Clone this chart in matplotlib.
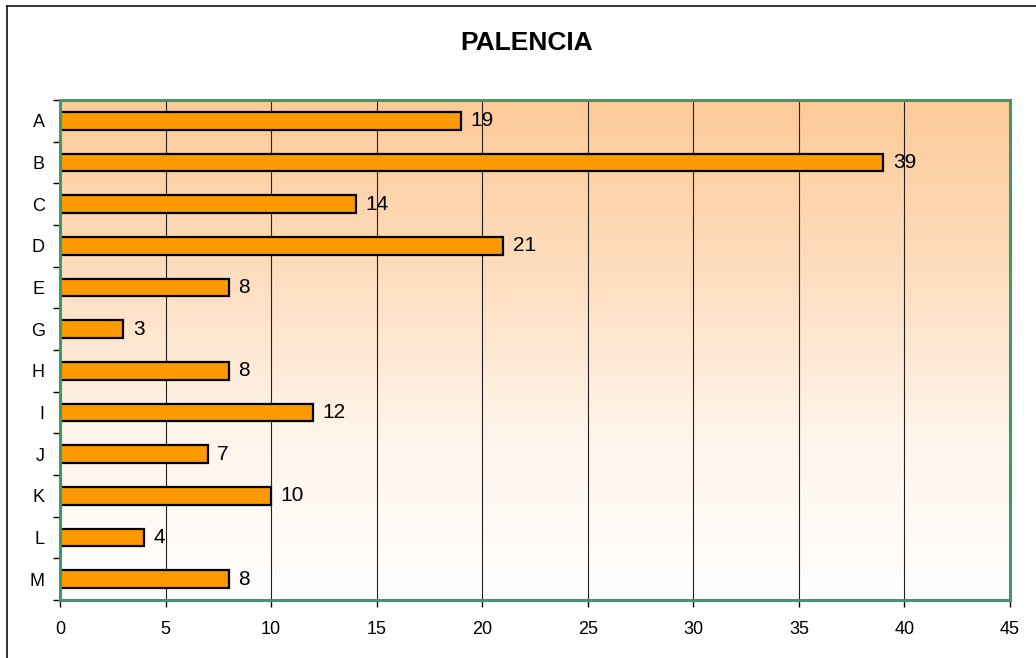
import numpy as np
import matplotlib
matplotlib.use("Agg")
import matplotlib.pyplot as plt
from matplotlib.colors import LinearSegmentedColormap
from matplotlib.patches import Rectangle
from matplotlib.lines import Line2D

plt.rcParams['font.family'] = ['Liberation Sans', 'DejaVu Sans']

# data
categories = ["A", "B", "C", "D", "E", "G", "H", "I", "J", "K", "L", "M"]
values = [19, 39, 14, 21, 8, 3, 8, 12, 7, 10, 4, 8]
x_ticks = [0, 5, 10, 15, 20, 25, 30, 35, 40, 45]

W, H = 1036, 658
fig = plt.figure(figsize=(W / 100, H / 100), dpi=100)
fig.patch.set_facecolor("white")

# plot area in pixels: x 60..1010, y 100..600
ax = fig.add_axes([60 / W, 1 - 600 / H, 950 / W, 500 / H])

n = len(categories)
ax.set_xlim(0, 45)
ax.set_ylim(n, 0)

# gradient background: light orange at top to white at bottom
cmap = LinearSegmentedColormap.from_list("bg", ["#FDCA98", "#FEDDBD", "#FFF4EA", "#FFFFFF"])
grad = np.linspace(0, 1, 256).reshape(-1, 1)
ax.imshow(grad, cmap=cmap, aspect="auto", extent=[0, 45, n, 0], zorder=0)

# vertical gridlines
for xv in x_ticks[1:-1]:
    ax.axvline(xv, color="#222222", lw=0.8, zorder=1)

ypos = np.arange(n) + 0.5
ax.barh(ypos, values, height=0.42, color="#FF9900", edgecolor="black",
        linewidth=1.6, zorder=3)

for y, v in zip(ypos, values):
    ax.text(v + 0.45, y, str(v), va="center", ha="left", fontsize=15, zorder=4)

# ticks
ax.set_xticks(x_ticks)
ax.set_xticklabels([str(t) for t in x_ticks], fontsize=13)
ax.set_yticks(np.arange(n + 1))
ax.set_yticklabels([])
ax.set_yticks(ypos, minor=True)
ax.set_yticklabels(categories, minor=True, fontsize=13)
ax.tick_params(axis="y", which="minor", length=0, pad=11)
ax.tick_params(axis="y", which="major", direction="out", length=5, width=1)
ax.tick_params(axis="x", direction="out", length=5, width=1, pad=10)

# plot area border: green frame, black axis lines
for s in ["top", "right"]:
    ax.spines[s].set_visible(False)
ax.spines["left"].set_color("black")
ax.spines["bottom"].set_color("black")
ax.spines["left"].set_linewidth(1)
ax.spines["bottom"].set_linewidth(1)
ax.add_patch(Rectangle((0, 0), 1, 1, transform=ax.transAxes, fill=False,
                       edgecolor="#3C9A6A", linewidth=2.2, zorder=5, clip_on=False))

fig.text(527 / W, 1 - 43 / H, "PALENCIA", ha="center", va="center",
         fontsize=19, fontweight="bold")

# outer chart border (only top and left edges fall inside the image)
fig.add_artist(Line2D([7 / W, 1.0], [1 - 6 / H, 1 - 6 / H], color="#222222", lw=1.3))
fig.add_artist(Line2D([7 / W, 7 / W], [0, 1 - 6 / H], color="#222222", lw=1.3))

fig.savefig("out.png", dpi=100)
